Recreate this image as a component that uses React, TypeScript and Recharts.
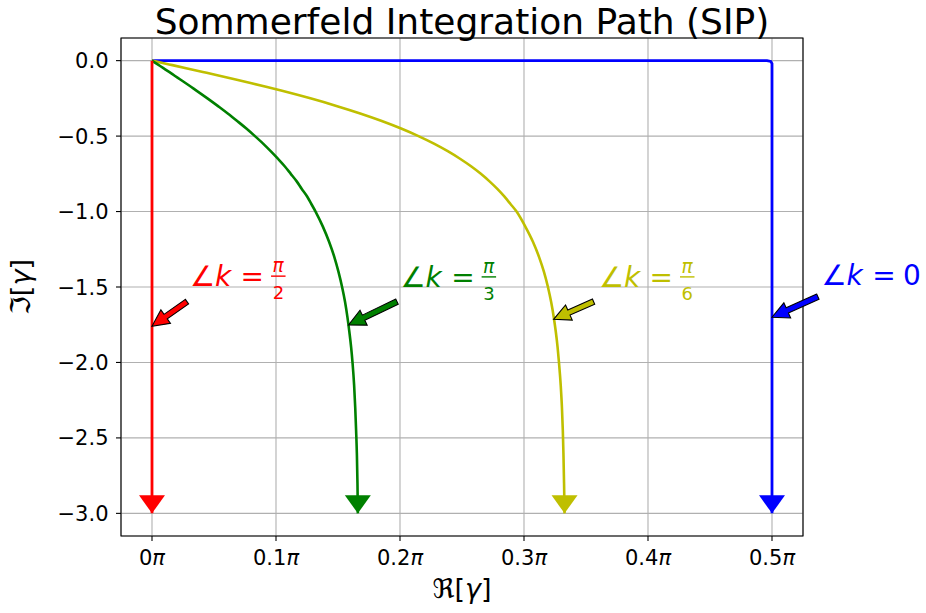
import React from "react";
import { LineChart, Line, XAxis, YAxis, CartesianGrid, ReferenceLine, ReferenceDot, ReferenceArea } from "recharts";

// Imaginary part samples shared by the two curved paths
const IM = [
  0, -0.025, -0.05, -0.075, -0.1, -0.125, -0.15, -0.175, -0.2, -0.25, -0.3, -0.35, -0.4, -0.45, -0.5,
  -0.55, -0.6, -0.65, -0.7, -0.75, -0.8, -0.85, -0.9, -0.95, -1.0, -1.1, -1.2, -1.3, -1.4, -1.5,
  -1.6, -1.7, -1.8, -1.9, -2.0, -2.15, -2.3, -2.45, -2.6, -2.8, -3.0,
];
const GREEN_RE = [
  0, 0.0046, 0.0092, 0.0138, 0.0183, 0.0228, 0.0273, 0.0317, 0.0361, 0.0447, 0.053, 0.0611, 0.0687, 0.0761, 0.083,
  0.0896, 0.0957, 0.1015, 0.107, 0.1119, 0.1167, 0.1208, 0.1251, 0.1285, 0.1319, 0.1378, 0.1428, 0.147, 0.1504, 0.1533,
  0.1557, 0.1576, 0.1592, 0.1606, 0.1617, 0.163, 0.1639, 0.1646, 0.1652, 0.1657, 0.166,
];
const YELLOW_RE = [
  0, 0.0138, 0.0275, 0.041, 0.0544, 0.0675, 0.0803, 0.0928, 0.1049, 0.1277, 0.1487, 0.1679, 0.1853, 0.2009, 0.2149,
  0.2274, 0.2385, 0.2484, 0.2573, 0.2652, 0.2722, 0.2785, 0.2841, 0.2891, 0.294, 0.3011, 0.3072, 0.3121, 0.3161, 0.3193,
  0.3219, 0.324, 0.3257, 0.3271, 0.3282, 0.3296, 0.3306, 0.3313, 0.3318, 0.3323, 0.3327,
];
const RED_RE = [0, 0];
const RED_IM = [0, -3.0];
const BLUE_RE = [0, 0.496, 0.499, 0.5, 0.5];
const BLUE_IM = [0, 0, -0.005, -0.02, -3.0];

const X_TICKS = [0, 0.1, 0.2, 0.3, 0.4, 0.5];
const Y_TICKS = [-3, -2.5, -2, -1.5, -1, -0.5, 0];

// annotation: label anchor, arrow tail, arrow tip (re in units of pi)
const LABELS = [
  { color: "#ff0000", num: "π", den: "2", at: [0.0323, -1.493], tail: [0.0282, -1.597], tip: [0, -1.76] },
  { color: "#008000", num: "π", den: "3", at: [0.2021, -1.498], tail: [0.1976, -1.597], tip: [0.1585, -1.751] },
  { color: "#bfbf00", num: "π", den: "6", at: [0.3621, -1.498], tail: [0.3561, -1.597], tip: [0.3239, -1.714] },
  { color: "#0000ff", num: "", den: "0", at: [0.5416, -1.488], tail: [0.537, -1.564], tip: [0.5, -1.70] },
];

const FONT = "DejaVu Sans";

const zipPts = (re: number[], im: number[]) => re.map((r, i) => ({ re: r, im: im[i] }));
const green = zipPts(GREEN_RE, IM);
const yellow = zipPts(YELLOW_RE, IM);
const red = zipPts(RED_RE, RED_IM);
const blue = zipPts(BLUE_RE, BLUE_IM);

const endHead = (color: string, n: number) => (p: any) => {
  if (p.index !== n - 1) return <g key={`d${p.index}`} />;
  const { cx, cy } = p;
  return <polygon key={`d${p.index}`} points={`${cx - 13},${cy - 18} ${cx + 13},${cy - 18} ${cx},${cy}`} fill={color} />;
};

const arrowShape = (color: string) => (p: any) => {
  const { x1, y1, x2, y2 } = p;
  const dx = x2 - x1, dy = y2 - y1;
  const L = Math.hypot(dx, dy);
  const ux = dx / L, uy = dy / L, nx = -uy, ny = ux;
  const hl = 16.7, hw = 8.3, sw = 2.8;
  const bx = x2 - ux * hl, by = y2 - uy * hl;
  const pts = [
    [x1 + nx * sw, y1 + ny * sw],
    [bx + nx * sw, by + ny * sw],
    [bx + nx * hw, by + ny * hw],
    [x2, y2],
    [bx - nx * hw, by - ny * hw],
    [bx - nx * sw, by - ny * sw],
    [x1 - nx * sw, y1 - ny * sw],
  ].map((q) => q.join(",")).join(" ");
  return <polygon points={pts} fill={color} stroke="#000" strokeWidth={1.1} />;
};

const labelShape = (l: typeof LABELS[number]) => (p: any) => {
  const { cx, cy } = p;
  return (
    <g fill={l.color} fontFamily={FONT}>
      <text x={cx + 10.5} y={cy} fontSize={28} textAnchor="middle">∠</text>
      <text x={cx + 31} y={cy} fontSize={28} textAnchor="middle" fontStyle="italic">k</text>
      <text x={cx + 60.3} y={cy} fontSize={28} textAnchor="middle">=</text>
      {l.num ? (
        <g>
          <text x={cx + 86} y={cy - 13.5} fontSize={18.5} textAnchor="middle" fontStyle="italic">{l.num}</text>
          <rect x={cx + 79} y={cy - 10.5} width={14.5} height={1.4} />
          <text x={cx + 86.3} y={cy + 13} fontSize={18} textAnchor="middle">{l.den}</text>
        </g>
      ) : (
        <text x={cx + 88.3} y={cy} fontSize={28} textAnchor="middle">{l.den}</text>
      )}
    </g>
  );
};

const XTick = (p: any) => {
  const v = p.payload.value;
  const s = v === 0 ? "0" : v.toFixed(1);
  return (
    <text x={p.x} y={p.y} dy={22} textAnchor="middle" fontFamily={FONT} fontSize={21} fill="#000">
      {s}<tspan fontStyle="italic">π</tspan>
    </text>
  );
};

const YTick = (p: any) => {
  const v = p.payload.value;
  const s = v.toFixed(1).replace("-", "\u2212");
  return (
    <text x={p.x} y={p.y} dy={7.5} textAnchor="end" fontFamily={FONT} fontSize={21} fill="#000">{s}</text>
  );
};

export default function App() {
  return (
    <div style={{ position: "absolute", left: 0, top: 0, width: 926, height: 613, background: "#fff" }}>
      <LineChart width={926} height={613} margin={{ top: 38, right: 123, bottom: 0, left: 0 }}>
        <CartesianGrid stroke="#b0b0b0" strokeWidth={1.1} />
        <XAxis
          type="number"
          dataKey="re"
          domain={[-0.025, 0.525]}
          allowDataOverflow
          ticks={X_TICKS}
          interval={0}
          height={77}
          tickSize={5}
          tickMargin={2}
          axisLine={false}
          tickLine={{ stroke: "#000", strokeWidth: 1.1 }}
          tick={<XTick />}
        />
        <YAxis
          type="number"
          domain={[-3.15, 0.15]}
          allowDataOverflow
          ticks={Y_TICKS}
          interval={0}
          width={121}
          tickSize={5}
          tickMargin={7.5}
          axisLine={false}
          tickLine={{ stroke: "#000", strokeWidth: 1.1 }}
          tick={<YTick />}
        />
        <Line data={blue} dataKey="im" type="linear" stroke="#0000ff" strokeWidth={2.8} dot={endHead("#0000ff", blue.length)} activeDot={false} isAnimationActive={false} />
        <Line data={yellow} dataKey="im" type="monotone" stroke="#bfbf00" strokeWidth={2.6} dot={endHead("#bfbf00", yellow.length)} activeDot={false} isAnimationActive={false} />
        <Line data={green} dataKey="im" type="monotone" stroke="#008000" strokeWidth={2.6} dot={endHead("#008000", green.length)} activeDot={false} isAnimationActive={false} />
        <Line data={red} dataKey="im" type="linear" stroke="#ff0000" strokeWidth={2.8} dot={endHead("#ff0000", red.length)} activeDot={false} isAnimationActive={false} />
        <ReferenceArea x1={-0.025} x2={0.525} y1={-3.15} y2={0.15} fill="none" stroke="#000" strokeWidth={1.1} fillOpacity={0} ifOverflow="visible" />
        {LABELS.map((l, i) => (
          <ReferenceLine
            key={`a${i}`}
            segment={[{ x: l.tail[0], y: l.tail[1] }, { x: l.tip[0], y: l.tip[1] }]}
            ifOverflow="visible"
            shape={arrowShape(l.color)}
          />
        ))}
        {LABELS.map((l, i) => (
          <ReferenceDot key={`t${i}`} x={l.at[0]} y={l.at[1]} r={1} ifOverflow="visible" shape={labelShape(l)} />
        ))}
      </LineChart>
      <svg width={926} height={613} style={{ position: "absolute", left: 0, top: 0, pointerEvents: "none" }}>
        <text x={462} y={33.5} textAnchor="middle" fontFamily={FONT} fontSize={36} fill="#000">
          Sommerfeld Integration Path (SIP)
        </text>
        <text x={462} y={598} textAnchor="middle" fontFamily={FONT} fontSize={27} fill="#000">
          ℜ[<tspan fontStyle="italic">γ</tspan>]
        </text>
        <text x={0} y={0} transform="translate(30,287) rotate(-90)" textAnchor="middle" fontFamily={FONT} fontSize={27} fill="#000">
          ℑ[<tspan fontStyle="italic">γ</tspan>]
        </text>
      </svg>
    </div>
  );
}
